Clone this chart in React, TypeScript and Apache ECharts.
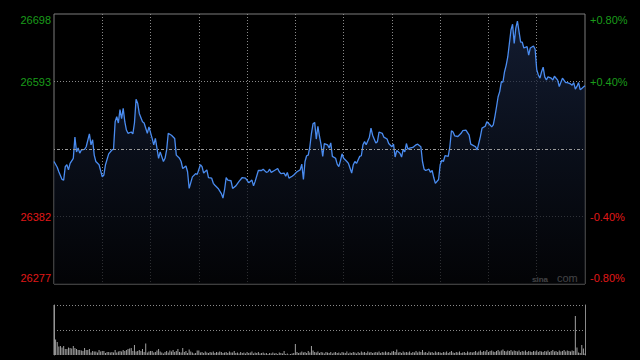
import React, { useEffect, useRef } from 'react';
import * as echarts from 'echarts';

// minute index since open (0..330) and index level
const minutes = [
  0, 2, 3, 5, 6, 7, 8, 9, 10, 12, 13, 14, 15, 16, 17, 19, 20, 22, 23, 24, 25, 26, 28, 30, 31, 32, 34, 36, 37, 38,
  39, 40, 41, 42, 43, 44, 45, 46, 48, 49, 50, 51, 52, 53, 55, 56, 58, 59, 61, 62, 63, 65, 66, 68, 69, 70, 71, 73, 75, 76,
  78, 79, 80, 82, 83, 84, 86, 88, 89, 91, 92, 93, 95, 96, 98, 99, 100, 102, 104, 105, 106, 107, 108, 110, 111, 113, 115, 117, 119, 121,
  122, 123, 124, 125, 127, 129, 130, 132, 133, 134, 135, 137, 139, 140, 141, 143, 144, 145, 146, 148, 149, 151, 153, 154, 155, 156, 157, 158, 159, 160,
  161, 162, 163, 164, 165, 166, 167, 168, 170, 171, 172, 173, 175, 176, 177, 178, 179, 180, 182, 183, 185, 186, 187, 188, 190, 191, 192, 193, 194, 196,
  197, 198, 200, 201, 202, 204, 205, 207, 208, 210, 211, 212, 213, 215, 216, 217, 218, 219, 220, 221, 223, 225, 226, 228, 229, 230, 231, 233, 234, 235,
  236, 237, 239, 240, 241, 242, 243, 245, 246, 247, 248, 249, 251, 253, 254, 256, 258, 259, 262, 263, 265, 266, 268, 269, 271, 272, 273, 274, 275, 276,
  277, 278, 279, 280, 281, 282, 283, 284, 285, 286, 287, 288, 290, 291, 292, 294, 295, 296, 298, 299, 300, 301, 302, 303, 304, 305, 306, 307, 309, 310,
  311, 313, 314, 316, 318, 319, 321, 322, 323, 324, 325, 326, 327, 328, 329, 330,
];

const prices = [
  26468, 26459, 26452, 26440, 26439, 26460, 26463, 26455, 26465, 26473, 26506, 26483, 26489, 26481, 26486, 26487, 26491, 26511, 26494, 26502, 26478, 26468, 26463, 26444, 26447, 26463, 26480, 26486, 26487, 26530,
  26538, 26528, 26549, 26535, 26551, 26530, 26517, 26512, 26514, 26511, 26528, 26565, 26559, 26543, 26530, 26528, 26512, 26522, 26504, 26494, 26504, 26473, 26483, 26468, 26473, 26486, 26512, 26509, 26504, 26478,
  26473, 26468, 26457, 26461, 26452, 26426, 26444, 26449, 26448, 26463, 26460, 26450, 26455, 26443, 26442, 26434, 26431, 26426, 26418, 26411, 26424, 26443, 26439, 26438, 26426, 26430, 26437, 26443, 26442, 26435,
  26437, 26439, 26430, 26437, 26454, 26454, 26456, 26451, 26452, 26456, 26451, 26454, 26457, 26452, 26449, 26450, 26445, 26451, 26442, 26445, 26447, 26452, 26455, 26464, 26440, 26468, 26477, 26478, 26491, 26512,
  26527, 26529, 26503, 26523, 26507, 26494, 26476, 26496, 26494, 26489, 26497, 26476, 26473, 26464, 26460, 26469, 26480, 26473, 26468, 26465, 26450, 26463, 26468, 26465, 26476, 26477, 26494, 26499, 26494, 26506,
  26520, 26509, 26497, 26499, 26514, 26512, 26506, 26503, 26496, 26491, 26495, 26475, 26485, 26481, 26475, 26487, 26483, 26496, 26487, 26489, 26490, 26494, 26495, 26491, 26468, 26456, 26454, 26456, 26451, 26454,
  26443, 26434, 26440, 26463, 26470, 26468, 26477, 26476, 26491, 26516, 26514, 26508, 26507, 26512, 26516, 26517, 26509, 26495, 26491, 26486, 26507, 26520, 26523, 26530, 26525, 26522, 26525, 26538, 26553, 26569,
  26577, 26592, 26592, 26608, 26618, 26631, 26652, 26673, 26682, 26652, 26676, 26687, 26654, 26654, 26645, 26647, 26634, 26645, 26648, 26643, 26611, 26603, 26598, 26608, 26615, 26600, 26595, 26600, 26598, 26595,
  26601, 26595, 26585, 26598, 26591, 26591, 26589, 26587, 26591, 26581, 26585, 26591, 26580, 26582, 26584, 26586,
];

// per-minute volume (relative units, first bar = full scale)
const volumes = [
  100, 31, 26, 17, 18, 15, 18, 12, 12, 15, 14, 13, 18, 14, 12, 10, 10, 9, 8, 14, 10, 10, 12, 5, 8, 7, 7, 5, 10, 7, 8,
  8, 4, 6, 6, 5, 6, 5, 10, 5, 7, 8, 7, 10, 8, 10, 12, 13, 14, 8, 20, 7, 8, 10, 8, 12, 6, 23, 5, 7, 8,
  8, 5, 6, 9, 12, 7, 5, 3, 6, 8, 5, 9, 7, 10, 6, 8, 12, 6, 5, 14, 6, 8, 4, 11, 7, 5, 3, 4, 9, 9,
  5, 6, 4, 7, 5, 4, 6, 5, 7, 4, 6, 5, 7, 6, 4, 5, 6, 4, 7, 5, 5, 8, 4, 5, 3, 6, 4, 5, 3, 6,
  4, 5, 7, 3, 5, 4, 6, 3, 4, 5, 3, 4, 2, 4, 3, 5, 3, 4, 2, 5, 4, 3, 8, 2, 3, 1, 2, 3, 4, 22,
  6, 4, 5, 7, 5, 6, 4, 8, 5, 18, 9, 6, 5, 7, 4, 6, 5, 3, 6, 5, 4, 6, 3, 5, 6, 4, 5, 3, 6, 5,
  4, 7, 3, 5, 4, 6, 5, 3, 6, 4, 7, 5, 6, 4, 7, 5, 6, 4, 5, 6,
  5, 7, 4, 6, 5, 7, 5, 6, 4, 7, 8, 6, 11, 5, 6, 4, 7, 5, 6, 5, 7, 4, 6, 5, 8, 5, 7, 6, 10, 5,
  6, 4, 7, 5, 6, 4, 7, 5, 6, 5, 4, 6, 5, 7, 4, 6, 8, 5, 4, 6, 5, 7, 4, 5, 6, 4, 7, 5, 6, 5,
  6, 8, 5, 7, 9, 6, 8, 7, 10, 6, 8, 9, 7, 6, 8, 10, 7, 9, 11, 8, 7, 9, 8, 10, 7, 9, 8, 7, 9, 6,
  8, 7, 9, 6, 8, 7, 6, 8, 7, 9, 6, 8, 7, 6, 8, 7, 9, 6, 8, 10, 7, 8, 6, 9, 7, 8, 10, 7, 9, 8,
  7, 9, 8,
  78, 15, 5, 4, 20, 13, 3,
];

const PREV_CLOSE = 26487.5;
const PRICE_MIN = 26277;
const PRICE_MAX = 26698;
const leftTickLabels = ['26277', '26382', '', '26593', '26698'];
const rightTickLabels = ['-0.80%', '-0.40%', '', '+0.40%', '+0.80%'];
const labelStyles = ['rb', 'r', '', 'g', 'gt'];

const GREEN = '#1a9c1a';
const RED = '#e01818';
const FONT = '"Liberation Sans", Arial, sans-serif';

export default function App() {
  const ref = useRef<HTMLDivElement>(null);
  useEffect(() => {
    const chart = echarts.init(ref.current!, null, { renderer: 'svg' });
    const priceData = minutes.map((m, i) => [m, prices[i]]);
    const volData = volumes.map((v, i) => [i, v]);
    const tickIdx = (v: number) => Math.round((v + 0.8) / 0.4);
    const rich = {
      gt: { color: GREEN, fontSize: 11, fontFamily: FONT, padding: [12, 0, 0, 0] },
      g: { color: GREEN, fontSize: 11, fontFamily: FONT },
      r: { color: RED, fontSize: 11, fontFamily: FONT },
      rb: { color: RED, fontSize: 11, fontFamily: FONT, padding: [0, 0, 12, 0] },
    };
    const fmt = (labels: string[]) => (v: number) => {
      const i = tickIdx(v);
      const s = labelStyles[i];
      if (!s || !labels[i]) return '';
      return `{${s}|${labels[i]}}`;
    };
    const vColors = ['transparent'];
    for (let k = 1; k < 11; k++) vColors.push('#8a8a8a');
    vColors.push('transparent');

    chart.setOption({
      animation: false,
      backgroundColor: '#000',
      grid: [
        { left: 54, top: 14, width: 531, height: 270, show: true, borderColor: '#7c7c7c', borderWidth: 1, backgroundColor: 'transparent' },
        { left: 54, top: 305, width: 531, height: 50 },
      ],
      xAxis: [
        {
          gridIndex: 0, type: 'value', min: 0, max: 330, interval: 30,
          axisLine: { show: false }, axisTick: { show: false }, axisLabel: { show: false },
          splitLine: { show: true, lineStyle: { color: vColors, type: [1, 2], width: 1 } },
        },
        {
          gridIndex: 1, type: 'value', min: 0, max: 330, interval: 30,
          axisLine: { show: false }, axisTick: { show: false }, axisLabel: { show: false }, splitLine: { show: false },
        },
      ],
      yAxis: [
        { gridIndex: 0, type: 'value', min: PRICE_MIN, max: PRICE_MAX, show: false, splitLine: { show: false } },
        {
          gridIndex: 0, type: 'value', min: -0.8, max: 0.8, interval: 0.4, position: 'left',
          axisLine: { show: false }, axisTick: { show: false },
          axisLabel: { margin: 3, formatter: fmt(leftTickLabels), rich, fontSize: 11, fontFamily: FONT },
          splitLine: { show: true, lineStyle: { color: ['transparent', '#8a8a8a', 'transparent', '#8a8a8a', 'transparent'], type: [1, 2], width: 1 } },
        },
        {
          gridIndex: 0, type: 'value', min: -0.8, max: 0.8, interval: 0.4, position: 'right',
          axisLine: { show: false }, axisTick: { show: false },
          axisLabel: { margin: 5, formatter: fmt(rightTickLabels), rich, fontSize: 11, fontFamily: FONT },
          splitLine: { show: false },
        },
        {
          gridIndex: 1, type: 'value', min: 0, max: 100, interval: 50, position: 'left',
          axisLine: { show: true, lineStyle: { color: '#8a8a8a', width: 1 } }, axisTick: { show: false }, axisLabel: { show: false },
          splitLine: { show: true, lineStyle: { color: ['transparent', '#8a8a8a', '#8a8a8a'], type: [1, 2], width: 1 } },
        },
        {
          gridIndex: 1, type: 'value', min: 0, max: 100, interval: 50, position: 'right',
          axisLine: { show: true, lineStyle: { color: '#8a8a8a', width: 1 } }, axisTick: { show: false }, axisLabel: { show: false },
          splitLine: { show: false },
        },
      ],
      series: [
        {
          type: 'line', xAxisIndex: 0, yAxisIndex: 0, data: priceData, showSymbol: false, symbol: 'none',
          lineStyle: { color: '#4a8cf0', width: 1.3 },
          areaStyle: {
            origin: 'start',
            color: {
              type: 'linear', x: 0, y: 14, x2: 0, y2: 284, global: true,
              colorStops: [
                { offset: 0, color: '#1b2846' },
                { offset: 0.5, color: '#0e1525' },
                { offset: 1, color: '#040508' },
              ],
            },
          },
          markLine: {
            silent: true, symbol: 'none', label: { show: false },
            lineStyle: { color: '#9a9a9a', type: [1, 2, 3, 2], width: 1 },
            data: [{ yAxis: PREV_CLOSE }],
          },
          z: 3,
        },
        {
          type: 'bar', xAxisIndex: 1, yAxisIndex: 3, data: volData, barWidth: 1,
          itemStyle: { color: '#a0a0a0' },
        },
      ],
      graphic: [
        { type: 'text', left: 532, top: 275, style: { text: 'sina', fill: '#d0d0d0', font: 'bold 8px ' + FONT } },
        { type: 'text', left: 557, top: 272, style: { text: 'com', fill: '#d0d0d0', font: '11px ' + FONT } },
      ],
    });
    return () => chart.dispose();
  }, []);
  return <div ref={ref} style={{ position: 'fixed', left: 0, top: 0, width: 640, height: 360, background: '#000' }} />;
}
